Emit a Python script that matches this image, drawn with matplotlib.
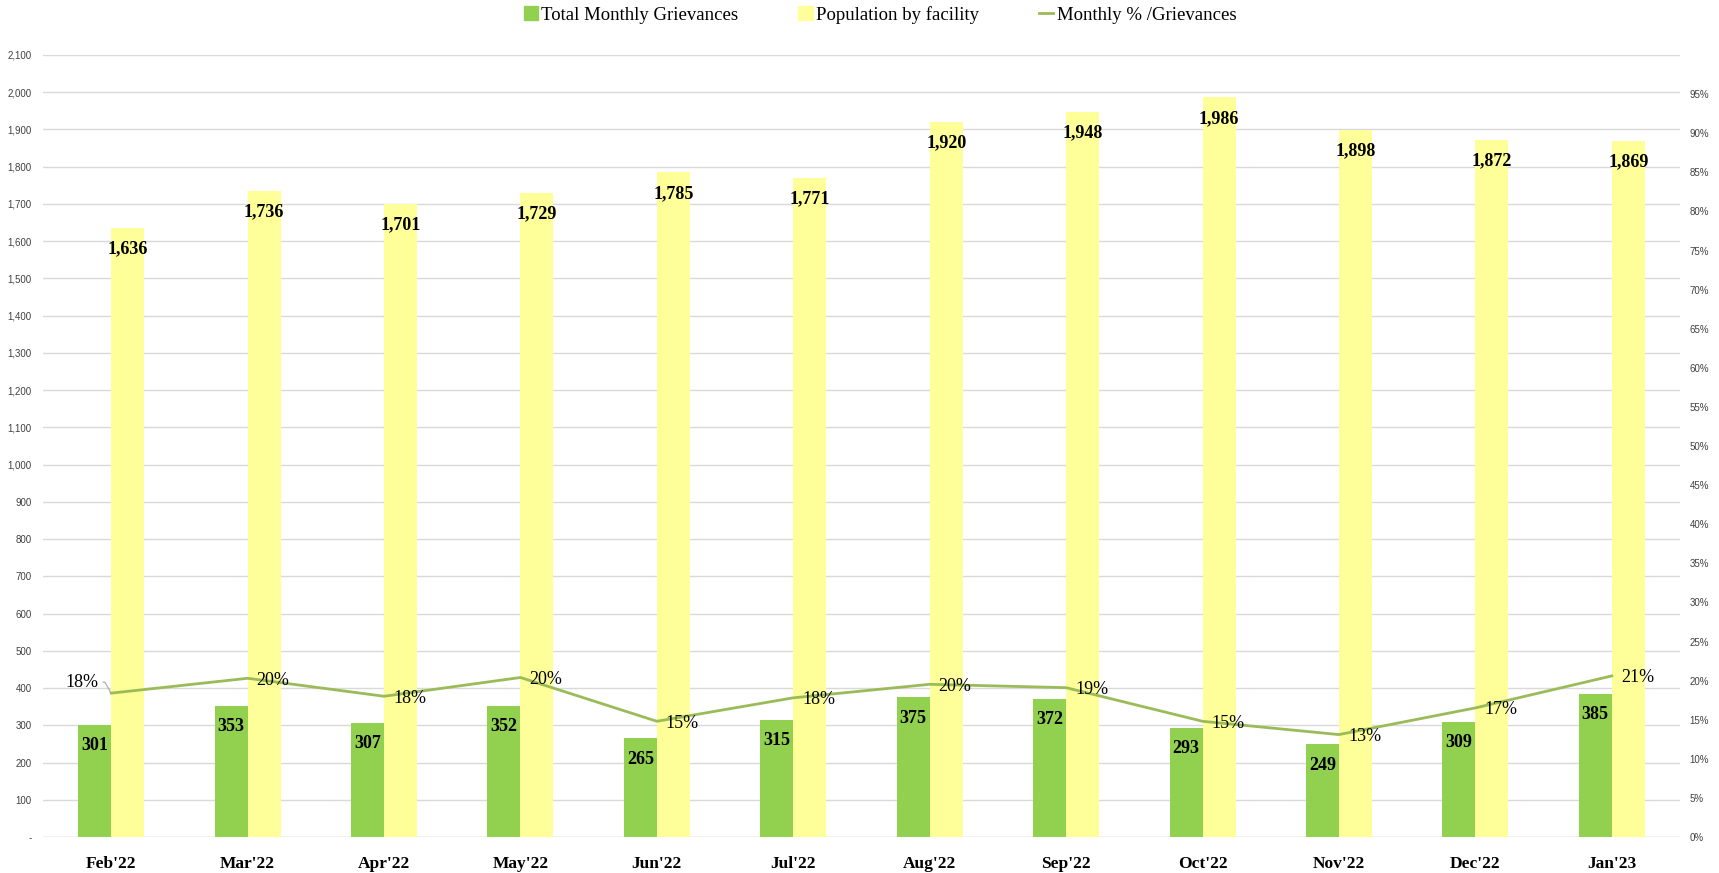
import numpy as np
import matplotlib.pyplot as plt
from matplotlib.patches import Patch
from matplotlib.lines import Line2D

# data
months = ["Feb'22", "Mar'22", "Apr'22", "May'22", "Jun'22", "Jul'22",
          "Aug'22", "Sep'22", "Oct'22", "Nov'22", "Dec'22", "Jan'23"]
grievances = [301, 353, 307, 352, 265, 315, 375, 372, 293, 249, 309, 385]
population = [1636, 1736, 1701, 1729, 1785, 1771, 1920, 1948, 1986, 1898, 1872, 1869]
pct = [0.184, 0.203, 0.180, 0.204, 0.148, 0.178, 0.1953, 0.191, 0.148, 0.131, 0.1651, 0.206]

left_ticks = list(range(0, 2101, 100))
right_ticks = [i / 100 for i in range(0, 96, 5)]

GREEN = '#92D050'
YELLOW = '#FFFF99'
LINE = '#9BBB59'
GRID = '#D9D9D9'
SERIF = ['Liberation Serif', 'DejaVu Serif']
SANS = ['Liberation Sans', 'DejaVu Sans']

fig = plt.figure(figsize=(17.19, 8.73), dpi=100)
ax = fig.add_axes([0.025, 0.0412, 0.9523, 0.8958])
ax2 = ax.twinx()

x = np.arange(len(months))
w = 0.242

gbars = ax.bar(x - w / 2, grievances, width=w, color=GREEN, zorder=2)
ybars = ax.bar(x + w / 2, population, width=w, color=YELLOW, zorder=2)

for bars, vals in ((gbars, grievances), (ybars, population)):
    for b, v in zip(bars, vals):
        ax.annotate(f'{v:,}', (b.get_x() + b.get_width() / 2, v),
                    xytext=(0, -21), textcoords='offset pixels',
                    ha='center', va='center', fontsize=13, fontweight='bold',
                    family=SERIF, color='black', zorder=5)

ax.set_xlim(-0.5, len(months) - 0.5)
ax.set_ylim(0, 2100)
ax.set_yticks(left_ticks)
ax.set_yticklabels(['-' if t == 0 else f'{t:,}' for t in left_ticks],
                   family=SANS, fontsize=7, color='#404040')
ax.set_xticks(x)
ax.set_xticklabels(months, family=SERIF, fontsize=12.5, fontweight='bold')
ax.tick_params(axis='x', length=0, pad=14)
ax.tick_params(axis='y', length=0, pad=8)
ax.grid(axis='y', color=GRID, linewidth=1, zorder=0)
ax.set_axisbelow(True)
for s in ax.spines.values():
    s.set_visible(False)
ax.axhline(0, color=GRID, linewidth=1, zorder=1)

ax2.plot(x, pct, color=LINE, linewidth=2.0, zorder=3)
ax2.set_ylim(0, 1.0)
ax2.set_yticks(right_ticks)
ax2.set_yticklabels([f'{int(round(t * 100))}%' for t in right_ticks],
                    family=SANS, fontsize=7, color='#404040')
ax2.tick_params(axis='y', length=0, pad=7)
for s in ax2.spines.values():
    s.set_visible(False)

for i, p in enumerate(pct):
    if i == 0:
        # first label sits to the left with a leader line
        ax2.annotate(f'{p:.0%}', (x[i], p), xytext=(-29, 11),
                     textcoords='offset pixels', ha='center', va='center',
                     fontsize=13, family=SERIF, color='black', zorder=6,
                     arrowprops=dict(arrowstyle='-', color='#A6A6A6', lw=0.8,
                                     shrinkA=1, shrinkB=1, relpos=(1.0, 0.5),
                                     connectionstyle='angle,angleA=0,angleB=120,rad=0'))
    else:
        ax2.annotate(f'{p:.0%}', (x[i], p), xytext=(9, -2),
                     textcoords='offset pixels', ha='left', va='center',
                     fontsize=13, family=SERIF, color='black', zorder=6)

handles = [Patch(color=GREEN), Patch(color=YELLOW),
           Line2D([], [], color=LINE, linewidth=2.0)]
labels = ['Total Monthly Grievances', 'Population by facility', 'Monthly % /Grievances']
fig.legend(handles, labels, loc='center', bbox_to_anchor=(0.512, 0.983), ncol=3,
           frameon=False, prop={'family': SERIF, 'size': 13.5},
           handlelength=0.75, handleheight=0.75, handletextpad=0.2,
           columnspacing=3.2)

fig.savefig('out.png', dpi=100)
